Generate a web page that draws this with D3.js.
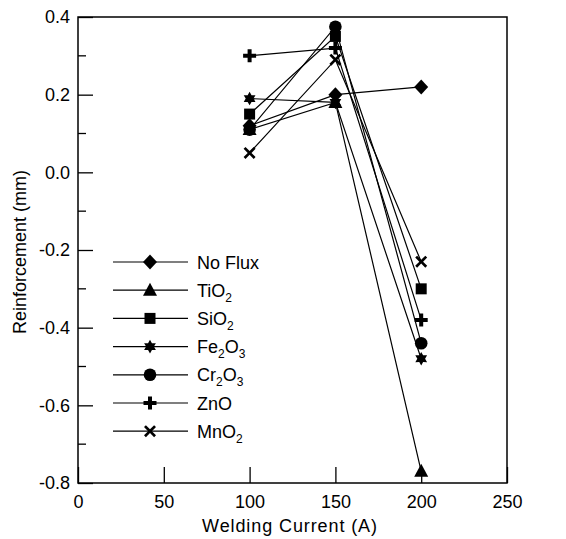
<!DOCTYPE html>
<html>
<head>
<meta charset="utf-8">
<script src="https://cdn.jsdelivr.net/npm/d3@7"></script>
<style>
  body { margin: 0; background: #fff; }
  svg { display: block; font-family: "Liberation Sans", Arial, sans-serif; }
</style>
</head>
<body>
<svg id="chart" width="566" height="539"></svg>
<script>
// Welding current settings (A)
const currents = [100, 150, 200];

// Reinforcement (mm) for each flux
const noFlux = [0.12, 0.20, 0.22];
const tio2   = [0.11, 0.18, -0.77];
const sio2   = [0.15, 0.35, -0.30];
const fe2o3  = [0.19, 0.18, -0.48];
const cr2o3  = [0.11, 0.375, -0.44];
const zno    = [0.30, 0.32, -0.38];
const mno2   = [0.05, 0.29, -0.23];

// Legend labels: [text, kind] pieces, "sub" for subscripts
const seriesNames = [
  [["No Flux", ""]],
  [["TiO", ""], ["2", "sub"]],
  [["SiO", ""], ["2", "sub"]],
  [["Fe", ""], ["2", "sub"], ["O", ""], ["3", "sub"]],
  [["Cr", ""], ["2", "sub"], ["O", ""], ["3", "sub"]],
  [["ZnO", ""]],
  [["MnO", ""], ["2", "sub"]]
];
const seriesValues = [noFlux, tio2, sio2, fe2o3, cr2o3, zno, mno2];
const seriesMarkers = ["diamond", "triangle", "square", "star", "circle", "plus", "x"];

const xTicks = [0, 50, 100, 150, 200, 250];
const yTicks = [-0.8, -0.6, -0.4, -0.2, 0.0, 0.2, 0.4];
const yMinorTicks = [-0.7, -0.5, -0.3, -0.1, 0.1, 0.3];

const svg = d3.select("#chart");
const plot = { left: 78, right: 507, top: 17, bottom: 483 };

const x = d3.scaleLinear().domain([0, 250]).range([plot.left, plot.right]);
const y = d3.scaleLinear().domain([-0.8, 0.4]).range([plot.bottom, plot.top]);

// Marker shape paths centred on the origin
function markerPath(type) {
  switch (type) {
    case "diamond": return "M0,-7.5L7,0L0,7.5L-7,0Z";
    case "triangle": return "M0,-7.5L7,5.5L-7,5.5Z";
    case "square": return "M-5.5,-5.5H5.5V5.5H-5.5Z";
    case "circle": return d3.arc()({innerRadius: 0, outerRadius: 6.3, startAngle: 0, endAngle: 2 * Math.PI});
    case "plus": return "M-2,-6.5H2V-2H6.5V2H2V6.5H-2V2H-6.5V-2H-2Z";
    case "x": {
      const a = 6, w = 1.9;
      return `M${-a},${-a + w}L${-a + w},${-a}L0,${-w}L${a - w},${-a}L${a},${-a + w}L${w},0L${a},${a - w}L${a - w},${a}L0,${w}L${-a + w},${a}L${-a},${a - w}L${-w},0Z`;
    }
    case "star": {
      // six-pointed star
      const pts = [];
      for (let i = 0; i < 12; i++) {
        const r = i % 2 === 0 ? 6.8 : 3.9;
        const ang = -Math.PI / 2 + i * Math.PI / 6;
        pts.push([r * Math.cos(ang), r * Math.sin(ang)]);
      }
      return "M" + pts.map(p => p.join(",")).join("L") + "Z";
    }
  }
}

// Axes: inward ticks on left and bottom
const yAxis = d3.axisLeft(y).tickValues(yTicks).tickSize(-15).tickPadding(8)
  .tickFormat(d3.format(".1f"));
const gy = svg.append("g").attr("transform", `translate(${plot.left},0)`).call(yAxis);
gy.select(".domain").remove();
gy.selectAll("line").attr("stroke", "#000").attr("stroke-width", 1.3);
gy.selectAll("text").attr("font-size", 18).attr("fill", "#000")
  .text(d => d3.format(".1f")(d).replace("−", "-"));

svg.append("g").selectAll("line").data(yMinorTicks).join("line")
  .attr("x1", plot.left).attr("x2", plot.left + 8)
  .attr("y1", d => y(d)).attr("y2", d => y(d))
  .attr("stroke", "#000").attr("stroke-width", 1.3);

const xAxis = d3.axisBottom(x).tickValues(xTicks).tickSize(-16).tickPadding(20);
const gx = svg.append("g").attr("transform", `translate(0,${plot.bottom})`).call(xAxis);
gx.select(".domain").remove();
gx.selectAll("line").attr("stroke", "#000").attr("stroke-width", 1.3);
gx.selectAll("text").attr("font-size", 18).attr("fill", "#000").attr("dy", "0.3em");

// Frame
svg.append("rect")
  .attr("x", plot.left).attr("y", plot.top)
  .attr("width", plot.right - plot.left).attr("height", plot.bottom - plot.top)
  .attr("fill", "none").attr("stroke", "#000").attr("stroke-width", 1.5);

// Axis titles
svg.append("text")
  .attr("x", 290).attr("y", 532).attr("text-anchor", "middle")
  .attr("font-size", 18).attr("letter-spacing", 0.9).text("Welding Current (A)");
svg.append("text")
  .attr("transform", "translate(26,252) rotate(-90)").attr("text-anchor", "middle")
  .attr("font-size", 18).text("Reinforcement (mm)");

// Series lines and markers
const line = d3.line().x((d, i) => x(currents[i])).y(d => y(d));
const series = svg.append("g");
seriesValues.forEach((vals, k) => {
  series.append("path").attr("d", line(vals))
    .attr("fill", "none").attr("stroke", "#000").attr("stroke-width", 1.2);
});
seriesValues.forEach((vals, k) => {
  series.selectAll(null).data(vals).join("path")
    .attr("d", markerPath(seriesMarkers[k]))
    .attr("transform", (d, i) => `translate(${x(currents[i])},${y(d)})`)
    .attr("fill", "#000");
});

// Legend
const legend = svg.append("g");
const legendTop = 262, legendStep = 28.2;
seriesNames.forEach((parts, k) => {
  const ly = legendTop + k * legendStep;
  legend.append("line").attr("x1", 113).attr("x2", 188).attr("y1", ly).attr("y2", ly)
    .attr("stroke", "#000").attr("stroke-width", 1.2);
  legend.append("path").attr("d", markerPath(seriesMarkers[k]))
    .attr("transform", `translate(150,${ly})`).attr("fill", "#000");
  const t = legend.append("text").attr("x", 197).attr("y", ly + 6.5).attr("font-size", 18);
  parts.forEach(([s, kind], j) => {
    const ts = t.append("tspan").text(s);
    if (kind === "sub") ts.attr("font-size", 12).attr("dy", 5);
    else if (j > 0) ts.attr("dy", -5);
  });
});
</script>
</body>
</html>
